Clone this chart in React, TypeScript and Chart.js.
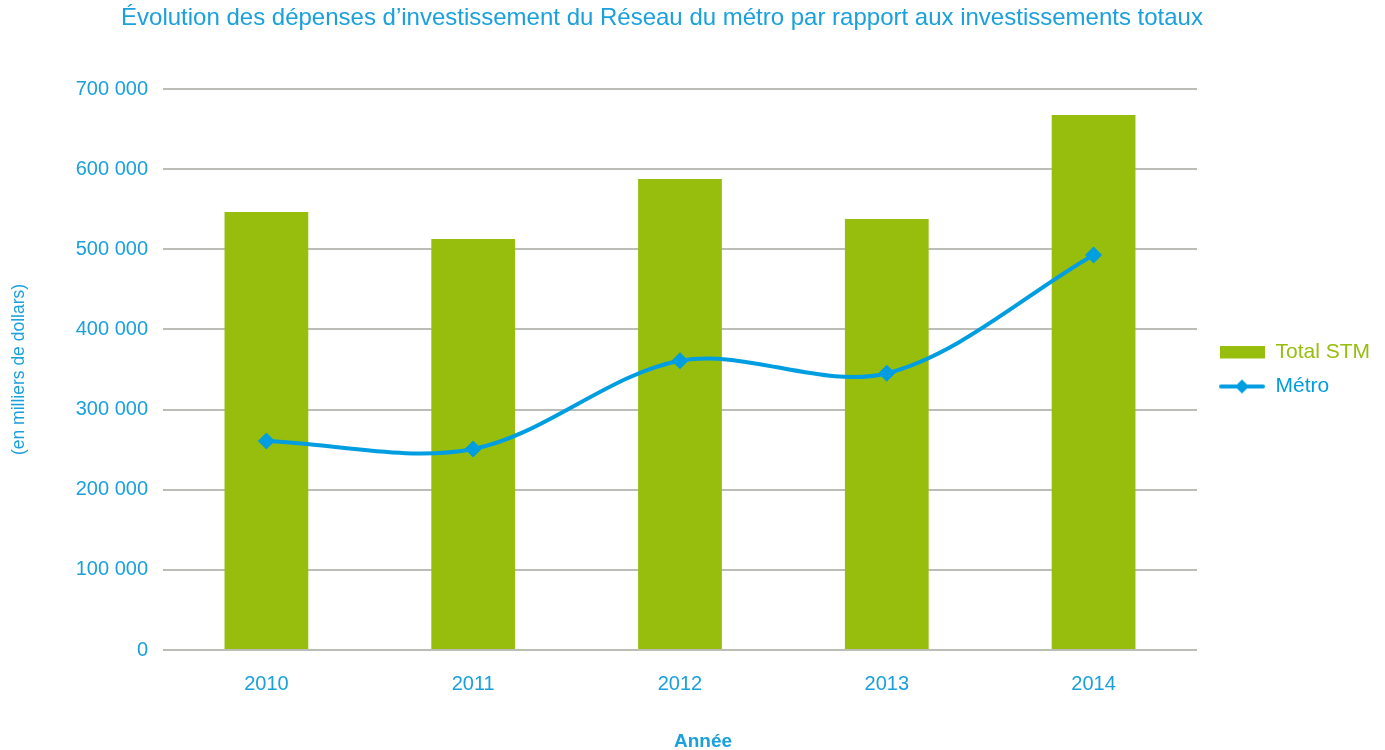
import React, { useEffect, useRef } from 'react';
import { Chart, registerables } from 'chart.js';

Chart.register(...registerables);

const years = ['2010', '2011', '2012', '2013', '2014'];
const totalSTM = [546500, 512800, 587700, 537800, 667600];
const metro = [260800, 250800, 361000, 345300, 492900];
const seriesNames = ['Total STM', 'Métro'];
const chartTitle = 'Évolution des dépenses d’investissement du Réseau du métro par rapport aux investissements totaux';
const xTitle = 'Année';
const yTitle = '(en milliers de dollars)';
const yMin = 0;
const yMax = 700000;
const yStep = 100000;

const FONT = "'Liberation Sans', Arial, sans-serif";
const GREEN = '#97BE0D';
const BLUE = '#009EE0';
const TEXT_BLUE = '#1AA0DC';
const GRID = '#BBBEB6';

const fmt = (v: number) => String(v).replace(/\B(?=(\d{3})+(?!\d))/g, ' ');

export default function App() {
  const ref = useRef<HTMLCanvasElement | null>(null);

  useEffect(() => {
    if (!ref.current) return;

    const W = 55;
    const barImg = document.createElement('canvas');
    barImg.width = W;
    barImg.height = 14;
    const bctx = barImg.getContext('2d')!;
    bctx.fillStyle = GREEN;
    bctx.fillRect(10, 0, 45, 13);

    const lineImg = document.createElement('canvas');
    lineImg.width = W;
    lineImg.height = 20;
    const lctx = lineImg.getContext('2d')!;
    lctx.strokeStyle = BLUE;
    lctx.lineWidth = 4;
    lctx.lineCap = 'round';
    lctx.beginPath();
    lctx.moveTo(11, 10);
    lctx.lineTo(53, 10);
    lctx.stroke();
    lctx.fillStyle = BLUE;
    lctx.beginPath();
    lctx.moveTo(32, 3);
    lctx.lineTo(39, 10);
    lctx.lineTo(32, 17);
    lctx.lineTo(25, 10);
    lctx.closePath();
    lctx.fill();

    const textPlugin = {
      id: 'extraText',
      afterDraw(chart: any) {
        const ctx = chart.ctx;
        ctx.save();
        ctx.fillStyle = TEXT_BLUE;
        ctx.textAlign = 'center';
        ctx.textBaseline = 'middle';
        ctx.font = `24px ${FONT}`;
        ctx.fillText(chartTitle, 662, 18);
        ctx.font = `bold 19px ${FONT}`;
        ctx.fillText(xTitle, 703, 742);
        ctx.restore();
      },
    };

    const chart = new Chart(ref.current, {
      type: 'bar',
      data: {
        labels: years,
        datasets: [
          {
            type: 'bar',
            label: seriesNames[0],
            data: totalSTM,
            backgroundColor: GREEN,
            borderWidth: 0,
            categoryPercentage: 1,
            barPercentage: 0.405,
            order: 2,
          },
          {
            type: 'line',
            label: seriesNames[1],
            data: metro,
            borderColor: BLUE,
            backgroundColor: BLUE,
            borderWidth: 4,
            tension: 0.33,
            pointStyle: 'rectRot',
            pointRadius: 8,
            pointBorderWidth: 1,
            pointBackgroundColor: BLUE,
            pointBorderColor: BLUE,
            order: 1,
          } as any,
        ],
      },
      options: {
        animation: false,
        responsive: true,
        maintainAspectRatio: false,
        layout: { padding: { top: 89, right: 5, bottom: 0, left: 0 } },
        plugins: {
          title: { display: false },
          tooltip: { enabled: false },
          legend: {
            display: true,
            position: 'right',
            align: 'center',
            fullSize: false,
            labels: {
              usePointStyle: true,
              pointStyleWidth: W,
              boxHeight: 21,
              padding: 13,
              font: { family: FONT, size: 21 },
              generateLabels: () => [
                {
                  text: seriesNames[0],
                  pointStyle: barImg,
                  fillStyle: GREEN,
                  strokeStyle: GREEN,
                  fontColor: GREEN,
                  lineWidth: 0,
                  hidden: false,
                  datasetIndex: 0,
                } as any,
                {
                  text: seriesNames[1],
                  pointStyle: lineImg,
                  fillStyle: BLUE,
                  strokeStyle: BLUE,
                  fontColor: BLUE,
                  lineWidth: 0,
                  hidden: false,
                  datasetIndex: 1,
                } as any,
              ],
            },
          },
        },
        scales: {
          x: {
            grid: { display: false, drawTicks: false },
            border: { display: false },
            ticks: {
              color: TEXT_BLUE,
              font: { family: FONT, size: 20 },
              padding: 22,
            },
            afterFit: (s: any) => {
              s.height = 100;
            },
          },
          y: {
            min: yMin,
            max: yMax,
            grid: { color: GRID, lineWidth: 2, drawTicks: false },
            border: { display: false },
            ticks: {
              stepSize: yStep,
              color: TEXT_BLUE,
              font: { family: FONT, size: 20 },
              padding: 15,
              callback: (v: any) => fmt(Number(v)),
            },
            title: {
              display: true,
              text: yTitle,
              color: TEXT_BLUE,
              font: { family: FONT, size: 17.5 },
              padding: { top: 9, bottom: 0 },
            },
            afterFit: (s: any) => {
              s.width = 163;
            },
          },
        },
      },
      plugins: [textPlugin],
    });

    return () => chart.destroy();
  }, []);

  return (
    <div style={{ position: 'fixed', left: 0, top: 0, width: 1385, height: 750, background: '#fff' }}>
      <canvas ref={ref} />
    </div>
  );
}
